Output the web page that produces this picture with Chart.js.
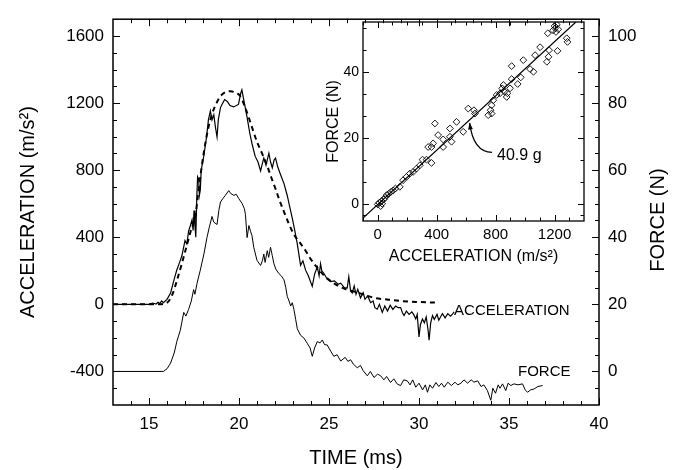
<!DOCTYPE html>
<html>
<head>
<meta charset="utf-8">
<script src="https://cdn.jsdelivr.net/npm/chart.js@4.4.1/dist/chart.umd.min.js"></script>
<style>
    body { margin: 0; background: #fff; }
    #wrap { position: relative; width: 680px; height: 470px; }
    #main { position: absolute; left: 0; top: 0; }
    #inset { position: absolute; left: 300px; top: 0; }
</style>
</head>
<body>
<div id="wrap">
    <canvas id="main" width="680" height="470"></canvas>
    <canvas id="inset" width="298" height="280"></canvas>
</div>
<script>
//------------------------------DONNEES------------------------------

// courbe accélération mesurée (ms, m/s²)
const accTime = [13, 14, 15, 15.2, 15.4, 15.5, 15.6, 15.7, 15.8, 16.0, 16.2, 16.4, 16.54, 16.7, 16.83, 17.0, 17.1, 17.2, 17.3, 17.39,
    17.45, 17.5, 17.55, 17.6, 17.65, 17.7, 17.76, 17.8, 17.85, 17.9, 18.04, 18.2, 18.3, 18.41, 18.5, 18.6, 18.7, 18.78, 18.85, 18.97,
    19.1, 19.2, 19.35, 19.5, 19.7, 19.85, 19.97, 20.1, 20.16, 20.3, 20.45, 20.6, 20.72, 20.9, 21.05, 21.2, 21.3, 21.38, 21.5, 21.66,
    21.75, 21.85, 21.95, 22.03, 22.15, 22.3, 22.5, 22.68, 22.8, 22.96, 23.1, 23.24, 23.42, 23.55, 23.7, 23.85, 24.07, 24.2, 24.35, 24.45,
    24.53, 24.6, 24.72, 24.9, 25.09, 25.3, 25.5, 25.65, 25.85, 26.01, 26.1, 26.2, 26.29, 26.4, 26.5, 26.6, 26.75, 26.9, 27.0, 27.15,
    27.31, 27.45, 27.55, 27.68, 27.8, 27.96, 28.1, 28.25, 28.4, 28.55, 28.7, 28.85, 28.98, 29.08, 29.17, 29.3, 29.45, 29.6, 29.7, 29.82,
    29.9, 30.0, 30.08, 30.19, 30.3, 30.4, 30.5, 30.56, 30.65, 30.75, 30.85, 31.0, 31.1, 31.3, 31.45, 31.6, 31.75, 31.86, 31.95]
const accValues = [0, 0, 0, 8, 2, 12, 5, 20, 10, 30, 68, 150, 203, 250, 291, 380, 360, 436, 470, 504,
    440, 560, 470, 400, 620, 760, 746, 650, 680, 800, 882, 1000, 1100, 1153, 1100, 1130, 1050, 998, 1100, 1173,
    1200, 1221, 1210, 1185, 1177, 1185, 1192, 1260, 1279, 1200, 1115, 1020, 959, 882, 850, 795, 840, 872, 830, 901,
    850, 814, 860, 872, 820, 776, 720, 649, 590, 514, 440, 359, 233, 260, 204, 170, 107, 180, 223, 170,
    242, 200, 184, 150, 136, 140, 120, 126, 100, 97, 165, 80, 68, 110, 60, 90, 39, 70, 30, 50,
    10, 20, -20, -29, 0, -48, -10, -40, -5, -30, -10, -20, -19, -50, -67, -40, -60, -45, -60, -87,
    -60, -194, -120, -87, -110, -75, -150, -213, -110, -67, -90, -60, -95, -55, -80, -55, -70, -58, -45]

// courbe ajustée en pointillés
const fitTime = [13, 15.5, 16.0, 16.3, 16.56, 17.02, 17.3, 17.58, 17.8, 18.04, 18.25, 18.5, 18.75, 18.97, 19.25, 19.52, 19.8, 20.08,
    20.3, 20.54, 20.77, 21.0, 21.3, 21.57, 21.8, 22.03, 22.25, 22.5, 22.75, 23.05, 23.4, 23.7, 23.97, 24.3, 24.7, 25.2, 25.8,
    26.55, 27.5, 28.3, 28.98, 30.0, 31.03]
const fitValues = [0, 0, 10, 60, 145, 320, 430, 533, 720, 901, 1030, 1134, 1200, 1241, 1265, 1270, 1262, 1241,
    1185, 1115, 1040, 969, 895, 824, 755, 688, 620, 552, 485, 417, 365, 320, 272, 225, 175, 130, 95,
    72, 39, 28, 20, 14, 10]

// courbe force (N), axe de droite
const forceTime = [13, 15.8, 16.0, 16.2, 16.4, 16.55, 16.74, 16.93, 17.05, 17.2, 17.35, 17.48, 17.55, 17.67, 17.85, 18.05, 18.22,
    18.35, 18.5, 18.6, 18.78, 18.88, 18.97, 19.1, 19.24, 19.43, 19.55, 19.71, 19.85, 19.99, 20.17, 20.3, 20.36, 20.45, 20.55, 20.64,
    20.72, 20.82, 21.0, 21.2, 21.3, 21.38, 21.45, 21.57, 21.65, 21.75, 21.85, 21.94, 22.05, 22.21, 22.35, 22.5, 22.6, 22.68, 22.78,
    22.87, 22.96, 23.05, 23.15, 23.24, 23.42, 23.6, 23.79, 23.95, 24.07, 24.2, 24.35, 24.5, 24.63, 24.75, 24.9, 25.1, 25.27, 25.45,
    25.65, 25.9, 26.05, 26.2, 26.35, 26.57, 26.75, 26.9, 27.13, 27.3, 27.5, 27.7, 27.87, 28.05, 28.2, 28.42, 28.6, 28.8, 28.98,
    29.15, 29.35, 29.5, 29.65, 29.82, 30.0, 30.2, 30.35, 30.47, 30.6, 30.75, 30.94, 31.1, 31.25, 31.4, 31.6, 31.8, 32.0, 32.15,
    32.33, 32.5, 32.7, 32.9, 33.05, 33.26, 33.45, 33.6, 33.8, 33.99, 34.1, 34.25, 34.4, 34.5, 34.64, 34.82, 34.95, 35.1, 35.28,
    35.5, 35.75, 35.9, 36.03, 36.2, 36.4, 36.6, 36.87]
const forceValues = [0, 0, 0.8, 2.5, 5.5, 9, 12.3, 17.6, 16.5, 18.5, 21, 24.4, 23, 26.3, 30.2, 35, 39.9,
    43, 46.2, 44.5, 43.8, 48, 50.5, 51.5, 52.5, 53.9, 53, 52.5, 52.8, 51.5, 50.1, 48.5, 46.7, 39.9, 43.5, 41.8,
    40.5, 37.0, 33.1, 31.6, 33, 35.0, 32.5, 36, 34, 37, 34.5, 32.1, 30.5, 29.2, 28.5, 27.3, 25, 22.4, 21,
    19.5, 20.5, 18.5, 15.5, 12.7, 10.8, 10, 8.4, 7, 4.5, 7, 8.9, 8.5, 9.4, 8, 7.9, 6, 4.5, 5,
    3.1, 4.2, 3, 3.5, 2.2, 1.1, 1.8, 0.2, -1.3, 0, -1.8, -0.8, -1.3, -2.5, -1.5, -3.3, -2.2, -3.8, -4.2,
    -2.5, -2.8, -4, -2.5, -4.7, -3.5, -5.5, -4, -6.2, -4, -5, -3.3, -4.5, -3.5, -4.7, -3.2, -4.2, -3.2, -4,
    -3.5, -2.5, -3.5, -2.5, -3.2, -2.8, -4.5, -4, -5.7, -8.6, -5, -6.5, -4, -5, -3.7, -5.7, -3.5, -4.2, -3.7,
    -4, -3.7, -5.5, -6.2, -5.5, -5.2, -4.5, -4.2]

// encart : force en fonction de l'accélération
const insetAcc = [0, 10, 20, 25, 30, 40, 50, 60, 75, 90, 105, 120, 150, 172, 195, 218, 240, 263, 286, 304, 331, 342, 365, 365,
    376, 388, 410, 444, 444, 490, 490, 501, 535, 580, 614, 653, 660, 750, 766, 773, 773, 784, 807, 830, 845, 853, 860, 875, 880,
    898, 909, 909, 950, 971, 988, 1034, 1057, 1068, 1102, 1148, 1154, 1159, 1163, 1190, 1200, 1204, 1210, 1215, 1220, 1225, 1283, 1288]
const insetForce = [0, 0.5, -0.5, 1, 0.2, 1.5, 2, 2.8, 3.2, 3.8, 4.2, 4.8, 5.3, 7.3, 8.3, 9.3, 9.8, 10.8, 11.8, 13.5, 13.5, 17.3, 12.5, 17.3,
    18.4, 24.4, 20.9, 19.6, 17.3, 20.4, 22.9, 18.9, 24.9, 21.9, 28.9, 28.4, 27.4, 26.9, 28.4, 29.9, 27.4, 31.4, 33.0, 33.5, 35, 36.0, 34, 32.4, 33.5,
    35.0, 37.8, 41.7, 36.3, 38.3, 43.5, 40.8, 40.0, 45.0, 47.4, 43.0, 51.6, 44.5, 46.5, 52.5, 53.8, 53.1, 52, 54.2, 46.3, 52.8, 50.1, 49.0]

// droite 40.9 g
const fitLineAcc = [-100, 1345]
const fitLineForce = [-4.1, 55.0]

// graduations
const timeTicks = [15, 20, 25, 30, 35, 40]
const accTicks = [-400, 0, 400, 800, 1200, 1600]
const forceTicks = [0, 20, 40, 60, 80, 100]
const insetAccTicks = [0, 400, 800, 1200]
const insetForceTicks = [0, 20, 40]

//-----------------------------------------------------------------------------------------

const FONT = "'Liberation Sans', Arial, sans-serif"

function toPoints(xs, ys) {
    return xs.map((x, i) => ({ x: x, y: ys[i] }))
}

function range(start, end, step) {
    let out = []
    for (let i = 0; start + i * step <= end + 1e-9; i++) out.push(start + i * step)
    return out
}

// remplace les graduations automatiques par les nôtres
function fixTicks(values) {
    return function (scale) {
        scale.ticks = values.map(v => ({ value: v }))
    }
}

// pas de séparateur de milliers (1600 et pas 1,600)
const brut = v => String(v)

// cadre + petites graduations vers l'intérieur
function cadre(spec) {
    return {
        id: 'cadre',
        afterDraw(chart) {
            const ctx = chart.ctx
            const a = chart.chartArea
            ctx.save()
            ctx.strokeStyle = '#000'
            ctx.lineWidth = spec.border
            ctx.strokeRect(a.left, a.top, a.right - a.left, a.bottom - a.top)
            ctx.lineWidth = 1
            ctx.beginPath()
            spec.ticks.forEach(t => {
                const s = chart.scales[t.scale]
                t.values.forEach(v => {
                    const p = Math.round(s.getPixelForValue(v)) + 0.5
                    t.sides.forEach(side => {
                        if (side === 'bottom') { ctx.moveTo(p, a.bottom); ctx.lineTo(p, a.bottom - t.len) }
                        if (side === 'top') { ctx.moveTo(p, a.top); ctx.lineTo(p, a.top + t.len) }
                        if (side === 'left') { ctx.moveTo(a.left, p); ctx.lineTo(a.left + t.len, p) }
                        if (side === 'right') { ctx.moveTo(a.right, p); ctx.lineTo(a.right - t.len, p) }
                    })
                })
            })
            ctx.stroke()
            ctx.restore()
        }
    }
}

//--------------------------------GRAPHIQUE PRINCIPAL--------------------------------------

const textes = {
    id: 'textes',
    afterDraw(chart) {
        const ctx = chart.ctx
        const x = chart.scales.x, y = chart.scales.y, y2 = chart.scales.y2
        ctx.save()
        ctx.fillStyle = '#000'
        ctx.font = '15px ' + FONT
        ctx.textBaseline = 'middle'
        ctx.textAlign = 'left'
        ctx.fillText('ACCELERATION', x.getPixelForValue(31.95), y.getPixelForValue(-37))
        ctx.fillText('FORCE', x.getPixelForValue(35.5), y2.getPixelForValue(0))

        // titre de l'axe de droite (lu de bas en haut)
        ctx.font = '20px ' + FONT
        ctx.textAlign = 'center'
        ctx.translate(chart.width - 22, (chart.chartArea.top + chart.chartArea.bottom) / 2 + 8)
        ctx.rotate(-Math.PI / 2)
        ctx.fillText('FORCE (N)', 0, 0)
        ctx.restore()
    }
}

new Chart(document.getElementById('main'), {
    type: 'scatter',
    data: {
        datasets: [{
            data: toPoints(accTime, accValues),
            yAxisID: 'y',
            showLine: true,
            borderColor: '#000',
            borderWidth: 1.2,
            pointRadius: 0
        }, {
            data: toPoints(fitTime, fitValues),
            yAxisID: 'y',
            showLine: true,
            borderColor: '#000',
            borderWidth: 2,
            borderDash: [5, 4],
            cubicInterpolationMode: 'monotone',
            pointRadius: 0
        }, {
            data: toPoints(forceTime, forceValues),
            yAxisID: 'y2',
            showLine: true,
            borderColor: '#000',
            borderWidth: 1,
            pointRadius: 0
        }]
    },
    options: {
        responsive: false,
        animation: false,
        layout: { padding: { top: 9, right: 0, bottom: 0, left: 0 } },
        plugins: {
            legend: { display: false },
            tooltip: { enabled: false }
        },
        scales: {
            x: {
                type: 'linear', min: 13, max: 40,
                afterBuildTicks: fixTicks(timeTicks),
                afterFit: s => { s.height = 65 },
                grid: { display: false, drawTicks: false, tickLength: 0 }, border: { display: false },
                ticks: { color: '#000', font: { family: FONT, size: 17 }, padding: 9, maxRotation: 0, autoSkip: false, callback: brut },
                title: { display: true, text: 'TIME (ms)', color: '#000', font: { family: FONT, size: 20 }, padding: { top: 0, bottom: 0 } }
            },
            y: {
                position: 'left', min: -600, max: 1700,
                afterBuildTicks: fixTicks(accTicks),
                afterFit: s => { s.width = 113 },
                grid: { display: false, drawTicks: false, tickLength: 0 }, border: { display: false },
                ticks: { color: '#000', font: { family: FONT, size: 17 }, padding: 9, autoSkip: false, callback: brut },
                title: { display: true, text: 'ACCELERATION (m/s²)', color: '#000', font: { family: FONT, size: 20 }, padding: { top: 16, bottom: 0 } }
            },
            y2: {
                position: 'right', min: -10, max: 105,
                afterBuildTicks: fixTicks(forceTicks),
                afterFit: s => { s.width = 81 },
                grid: { display: false, drawTicks: false, tickLength: 0 }, border: { display: false },
                ticks: { color: '#000', font: { family: FONT, size: 17 }, padding: 9, autoSkip: false, callback: brut }
            }
        }
    },
    plugins: [cadre({
        border: 1.5,
        ticks: [
            { scale: 'x', values: timeTicks, len: 7, sides: ['bottom', 'top'] },
            { scale: 'x', values: range(14, 39, 1), len: 4, sides: ['bottom', 'top'] },
            { scale: 'y', values: accTicks, len: 7, sides: ['left'] },
            { scale: 'y', values: range(-500, 1700, 100), len: 4, sides: ['left'] },
            { scale: 'y2', values: forceTicks, len: 7, sides: ['right'] },
            { scale: 'y2', values: range(-5, 105, 5), len: 4, sides: ['right'] }
        ]
    }), textes]
})

//------------------------------------ENCART-----------------------------------------------

const fleche = {
    id: 'fleche',
    afterDraw(chart) {
        const ctx = chart.ctx
        const x = chart.scales.x, y = chart.scales.y
        ctx.save()
        ctx.fillStyle = '#000'
        ctx.strokeStyle = '#000'
        ctx.font = '16px ' + FONT
        ctx.textBaseline = 'middle'
        ctx.textAlign = 'left'
        ctx.fillText('40.9 g', x.getPixelForValue(810), y.getPixelForValue(14.8))

        // flèche courbe vers la droite
        const x0 = x.getPixelForValue(776), y0 = y.getPixelForValue(15.7)
        const cx = x.getPixelForValue(648), cy = y.getPixelForValue(15.8)
        const x1 = x.getPixelForValue(624), y1 = y.getPixelForValue(24.6)
        ctx.lineWidth = 1.2
        ctx.beginPath()
        ctx.moveTo(x0, y0)
        ctx.quadraticCurveTo(cx, cy, x1, y1)
        ctx.stroke()
        const ang = Math.atan2(y1 - cy, x1 - cx)
        ctx.beginPath()
        ctx.moveTo(x1, y1)
        ctx.lineTo(x1 - 7 * Math.cos(ang - 0.35), y1 - 7 * Math.sin(ang - 0.35))
        ctx.lineTo(x1 - 7 * Math.cos(ang + 0.35), y1 - 7 * Math.sin(ang + 0.35))
        ctx.closePath()
        ctx.fill()
        ctx.restore()
    }
}

new Chart(document.getElementById('inset'), {
    type: 'scatter',
    data: {
        datasets: [{
            data: toPoints(insetAcc, insetForce),
            pointStyle: 'rectRot',
            pointRadius: 3.4,
            borderWidth: 0.9,
            borderColor: '#000',
            backgroundColor: 'rgba(0,0,0,0)'
        }, {
            data: toPoints(fitLineAcc, fitLineForce),
            showLine: true,
            borderColor: '#000',
            borderWidth: 1.2,
            pointRadius: 0
        }]
    },
    options: {
        responsive: false,
        animation: false,
        layout: { padding: { top: 22, right: 14, bottom: 0, left: 0 } },
        plugins: {
            legend: { display: false },
            tooltip: { enabled: false }
        },
        scales: {
            x: {
                type: 'linear', min: -100, max: 1400,
                afterBuildTicks: fixTicks(insetAccTicks),
                afterFit: s => { s.height = 59 },
                grid: { display: false, drawTicks: false, tickLength: 0 }, border: { display: false },
                ticks: { color: '#000', font: { family: FONT, size: 15 }, padding: 5, maxRotation: 0, autoSkip: false, callback: brut },
                title: { display: true, text: 'ACCELERATION (m/s²)', color: '#000', font: { family: FONT, size: 16 }, padding: { top: 0, bottom: 14 } }
            },
            y: {
                min: -5, max: 55,
                afterBuildTicks: fixTicks(insetForceTicks),
                afterFit: s => { s.width = 63 },
                grid: { display: false, drawTicks: false, tickLength: 0 }, border: { display: false },
                ticks: { color: '#000', font: { family: FONT, size: 14 }, padding: 4, autoSkip: false, callback: brut },
                title: { display: true, text: 'FORCE (N)', color: '#000', font: { family: FONT, size: 16 }, padding: { top: 24, bottom: 0 } }
            }
        }
    },
    plugins: [cadre({
        border: 1.3,
        ticks: [
            { scale: 'x', values: insetAccTicks, len: 6, sides: ['bottom', 'top'] },
            { scale: 'x', values: [-100, 100, 200, 300, 500, 600, 700, 900, 1000, 1100, 1300], len: 3.5, sides: ['bottom', 'top'] },
            { scale: 'y', values: insetForceTicks, len: 6, sides: ['left', 'right'] },
            { scale: 'y', values: [-10 / 3, 20 / 3, 40 / 3, 80 / 3, 100 / 3, 140 / 3, 160 / 3], len: 3.5, sides: ['left', 'right'] }
        ]
    }), fleche]
})
</script>
</body>
</html>
